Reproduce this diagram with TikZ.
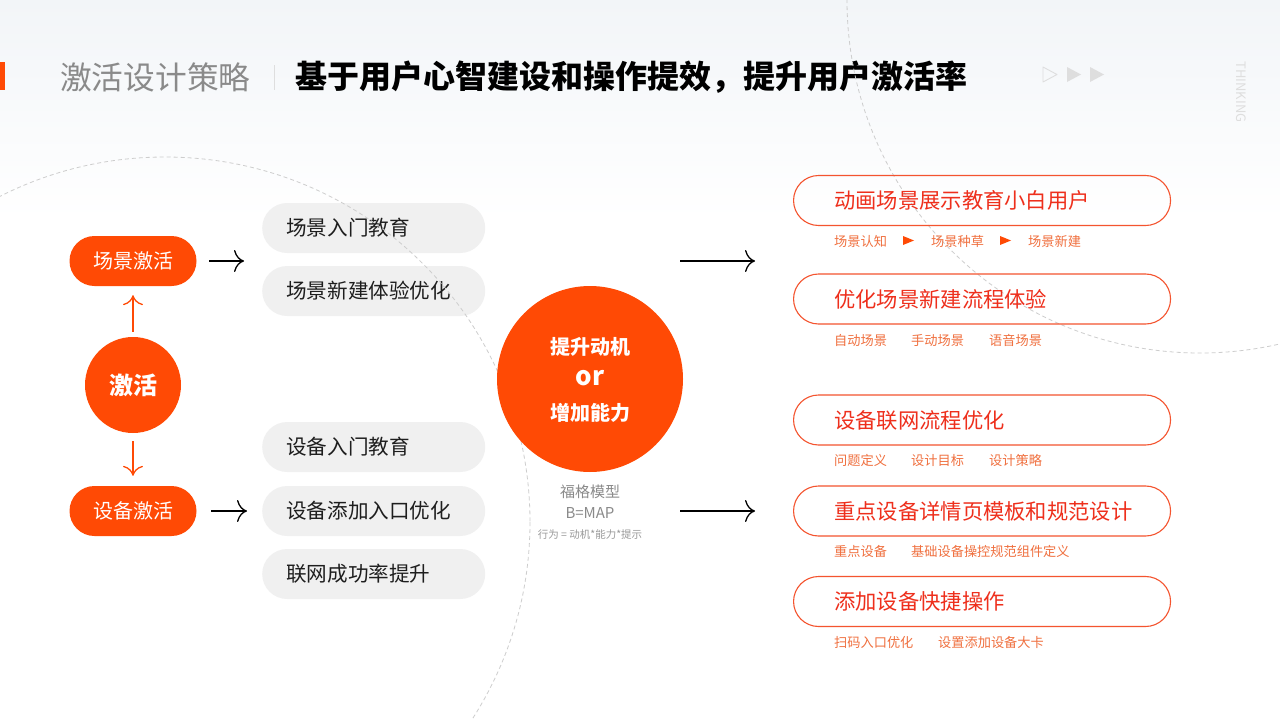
\documentclass[tikz,border=0pt]{standalone}
\usepackage{fontspec}
\setmainfont{Noto Sans CJK SC}
\usetikzlibrary{arrows.meta}
\definecolor{brand}{HTML}{FF4A05}
\definecolor{pillred}{HTML}{F4542F}
\definecolor{pilltext}{HTML}{EE2F1C}
\definecolor{subtext}{HTML}{F0703F}
\definecolor{graybox}{HTML}{F0F0F0}
\definecolor{dashgray}{HTML}{CDCDCD}
\definecolor{bgtop}{HTML}{F2F5F8}
\definecolor{titlegray}{HTML}{8A8A8A}
\definecolor{ink}{HTML}{1E1E1E}
\definecolor{deco}{HTML}{DEDEDE}
\newcommand{\fsz}[1]{\fontsize{#1pt}{#1pt}\selectfont}
\begin{document}
\begin{tikzpicture}[x=1pt,y=-1pt,
  orangepill/.style={draw=none,fill=brand,text=white,minimum width=127pt,minimum height=50pt,rounded corners=25pt,font=\fsz{20}},
  graypill/.style={anchor=west,fill=graybox,minimum width=223pt,minimum height=50pt,rounded corners=25pt},
  graytext/.style={anchor=west,text=ink,font=\fsz{20.6},inner sep=0pt},
  linepill/.style={anchor=west,draw=pillred,line width=1.1pt,fill=white,fill opacity=0,minimum width=377pt,minimum height=50pt,rounded corners=25pt},
  linetext/.style={anchor=west,text=pilltext,font=\fsz{21.3},inner sep=0pt},
  subl/.style={anchor=west,text=subtext,font=\fsz{13.2},inner sep=0pt},
  dashc/.style={draw=dashgray,line width=0.8pt,dash pattern=on 4pt off 3pt},
  blackarr/.style={draw=black,line width=1.3pt,-{To[length=10pt,width=22pt]}},
  orangearr/.style={draw=brand,line width=1.3pt,-{To[length=10pt,width=20pt]}},
  whitetext/.style={text=white,inner sep=0pt},
]
\useasboundingbox (0,0) rectangle (1280,720);
\begin{scope}
\clip (0,0) rectangle (1280,720);
\fill[white] (0,0) rectangle (1280,720);
\shade[top color=bgtop,bottom color=white] (0,0) rectangle (1280,220);
% header
\fill[brand] (0,62) rectangle (5,90);
\node[anchor=west,text=titlegray,font=\fsz{31.7},inner sep=0pt] (t1) at (60,77) {激活设计策略};
\draw[deco,line width=0.8pt] (274,65) -- (274,90);
\node[anchor=west,text=black,font=\fsz{32}\bfseries,inner sep=0pt] (t2) at (295,77) {基于用户心智建设和操作提效，提升用户激活率};
\draw[deco,line width=0.9pt,line join=round] (1043,67) -- (1057,74.5) -- (1043,82) -- cycle;
\fill[deco] (1067,67) -- (1081,74.5) -- (1067,82) -- cycle;
\fill[deco] (1090,67) -- (1104,74.5) -- (1090,82) -- cycle;
\node[rotate=-90,text=deco,font=\fsz{13},inner sep=0pt] (think) at (1241,92) {THINKING};
% gray pills
\node[graypill] (g1) at (262,228) {};
\node[graypill] (g2) at (262,291) {};
\node[graypill] (g3) at (262,447) {};
\node[graypill] (g4) at (262,511) {};
\node[graypill] (g5) at (262,574) {};
\node[graytext] (g1t) at (286,228) {场景入门教育};
\node[graytext] (g2t) at (286,291) {场景新建体验优化};
\node[graytext] (g3t) at (286,447) {设备入门教育};
\node[graytext] (g4t) at (286,511) {设备添加入口优化};
\node[graytext] (g5t) at (286,574) {联网成功率提升};
% dashed circles
\draw[dashc] (165,522) circle[radius=365];
\draw[dashc] (1200,0) circle[radius=353];
% left column
\node[orangepill] (sp) at (133,261) {场景激活};
\node[orangepill] (dp) at (133,511) {设备激活};
\node[circle,fill=brand,minimum size=96pt,inner sep=0pt,text=white,font=\fsz{24}\bfseries] (act) at (133,385) {激活};
\draw[orangearr,shorten <=5pt,shorten >=9pt] (act) -- (sp);
\draw[orangearr,shorten <=8pt,shorten >=10pt] (act) -- (dp);
\coordinate (ae1) at (244,261);
\coordinate (ae2) at (247,511);
\draw[blackarr,shorten <=12.5pt] (sp.east) -- (ae1);
\draw[blackarr,shorten <=14.5pt] (dp.east) -- (ae2);
% big circle
\node[circle,fill=brand,minimum size=186pt,inner sep=0pt] (bc) at (590,379) {};
\node[whitetext,font=\fsz{20}\bfseries] (bc1) at (590,347) {提升动机};
\node[whitetext,font=\fsz{26}\bfseries] (bc2) at (590,378) {or};
\node[whitetext,font=\fsz{20}\bfseries] (bc3) at (590,413) {增加能力};
\node[text=titlegray,font=\fsz{15},inner sep=0pt] (fg1) at (590,492) {福格模型};
\node[text=titlegray,font=\fsz{15},inner sep=0pt] (fg2) at (590,513) {B=MAP};
\node[text=black!40,font=\fsz{10.5},inner sep=0pt] (fg3) at (590,535) {行为 = 动机*能力*提示};
% right arrows
\coordinate (rs1) at (680,261);
\coordinate (re1) at (755,261);
\coordinate (rs2) at (680,511);
\coordinate (re2) at (755,511);
\draw[blackarr] (rs1) -- (re1);
\draw[blackarr] (rs2) -- (re2);
% right pills
\node[linepill] (r1) at (793,200.5) {};
\node[linepill] (r2) at (793,299) {};
\node[linepill] (r3) at (793,420) {};
\node[linepill] (r4) at (793,511) {};
\node[linepill] (r5) at (793,601.5) {};
\node[linetext] (r1t) at (834,200.5) {动画场景展示教育小白用户};
\node[linetext] (r2t) at (834,299) {优化场景新建流程体验};
\node[linetext] (r3t) at (834,420) {设备联网流程优化};
\node[linetext] (r4t) at (834,511) {重点设备详情页模板和规范设计};
\node[linetext] (r5t) at (834,601.5) {添加设备快捷操作};
% sub labels
\node[subl] (s11) at (834,241) {场景认知};
\fill[brand] (903,236) -- (914,240.5) -- (903,245) -- cycle;
\node[subl] (s12) at (931,241) {场景种草};
\fill[brand] (1000,236) -- (1011,240.5) -- (1000,245) -- cycle;
\node[subl] (s13) at (1028,241) {场景新建};
\node[subl] (s21) at (834,340) {自动场景};
\node[subl] (s22) at (911,340) {手动场景};
\node[subl] (s23) at (989,340) {语音场景};
\node[subl] (s31) at (834,460) {问题定义};
\node[subl] (s32) at (911,460) {设计目标};
\node[subl] (s33) at (989,460) {设计策略};
\node[subl] (s41) at (834,551) {重点设备};
\node[subl] (s42) at (911,551) {基础设备操控规范组件定义};
\node[subl] (s51) at (834,642) {扫码入口优化};
\node[subl] (s52) at (938,642) {设置添加设备大卡};
\end{scope}
\end{tikzpicture}
\end{document}
